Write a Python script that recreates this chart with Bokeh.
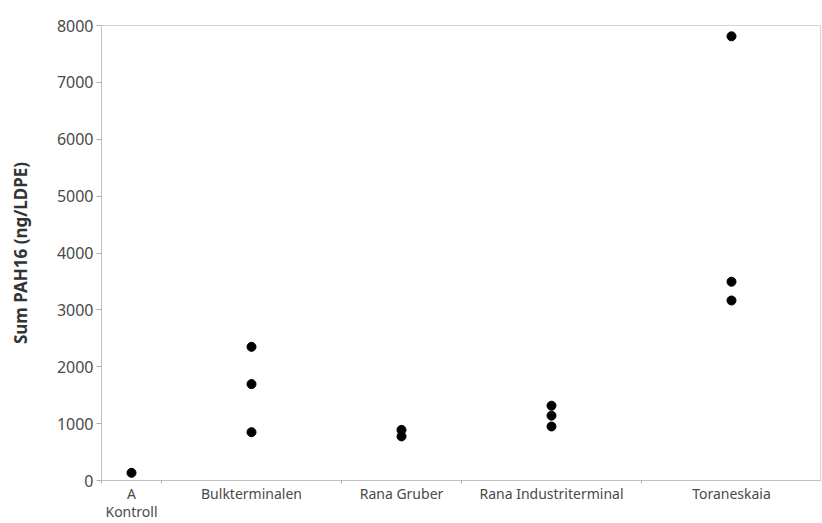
from bokeh.plotting import figure
from bokeh.models import FixedTicker, Range1d, ColumnDataSource
from bokeh.embed import file_html
from bokeh.resources import INLINE

# Data
categories = ["A Kontroll", "Bulkterminalen", "Rana Gruber", "Rana Industriterminal", "Toraneskaia"]
tick_labels = ["A\nKontroll", "Bulkterminalen", "Rana Gruber", "Rana Industriterminal", "Toraneskaia"]
kontroll = [135]
bulkterminalen = [2350, 1695, 850]
rana_gruber = [890, 775]
rana_industriterminal = [1315, 1140, 950]
toraneskaia = [7810, 3495, 3165]
groups = [kontroll, bulkterminalen, rana_gruber, rana_industriterminal, toraneskaia]
y_ticks = [0, 1000, 2000, 3000, 4000, 5000, 6000, 7000, 8000]

# Group widths proportional to group size (JMP one-way layout)
bounds = [0]
for g in groups:
    bounds.append(bounds[-1] + len(g))
centers = [(bounds[i] + bounds[i + 1]) / 2 for i in range(len(groups))]

xs, ys = [], []
for c, g in zip(centers, groups):
    for v in g:
        xs.append(c)
        ys.append(v)
src = ColumnDataSource(dict(x=xs, y=ys))

p = figure(width=821, height=523, output_backend="svg", toolbar_location=None,
           x_range=Range1d(bounds[0], bounds[-1]), y_range=Range1d(0, 8000),
           min_border_left=101, min_border_right=0, min_border_top=25, min_border_bottom=40)

p.scatter("x", "y", source=src, size=9, color="black")

p.xgrid.visible = False
p.ygrid.visible = False
p.outline_line_color = "#d4d4d4"
p.background_fill_color = "white"
p.border_fill_color = "white"

font = "Noto Sans"

xa = p.xaxis[0]
xa.ticker = FixedTicker(ticks=centers, minor_ticks=bounds)
xa.major_label_overrides = {c: t for c, t in zip(centers, tick_labels)}
xa.major_tick_line_color = None
xa.major_tick_in = 0
xa.major_tick_out = 0
xa.minor_tick_in = 0
xa.minor_tick_out = 3
xa.minor_tick_line_color = "#b0b0b0"
xa.axis_line_color = "#c0c0c0"
xa.major_label_text_font = font
xa.major_label_text_font_size = "14px"
xa.major_label_text_line_height = 0.95
xa.major_label_text_color = "#4a4a4a"
xa.major_label_standoff = 0

ya = p.yaxis[0]
ya.ticker = FixedTicker(ticks=y_ticks, minor_ticks=[])
ya.major_tick_in = 0
ya.major_tick_out = 5
ya.major_tick_line_color = "#b0b0b0"
ya.axis_line_color = "#c0c0c0"
ya.major_label_text_font = font
ya.major_label_text_font_size = "16px"
ya.major_label_text_color = "#4a4a4a"
ya.major_label_standoff = 3
ya.axis_label = "Sum PAH16 (ng/LDPE)"
ya.axis_label_text_font = font
ya.axis_label_text_font_style = "bold"
ya.axis_label_text_font_size = "17px"
ya.axis_label_text_color = "#333333"
ya.axis_label_standoff = 22

open("out.html", "w").write(file_html(p, INLINE))
